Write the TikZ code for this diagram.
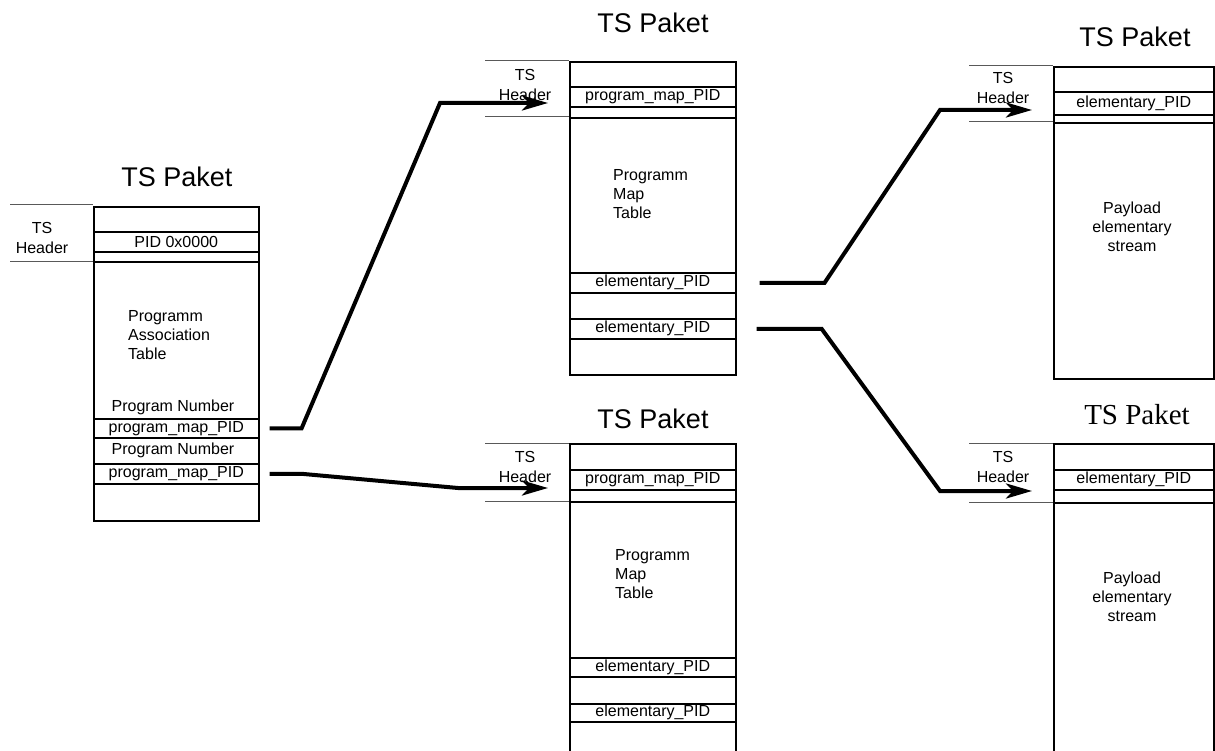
\documentclass[tikz,border=0pt]{standalone}
\usepackage{fontspec}
\setmainfont{Liberation Sans}
\newfontfamily\timesfont{Liberation Serif}
\usetikzlibrary{arrows.meta}

\tikzset{
  paket/.style={draw, line width=2pt, anchor=north west, inner sep=0pt},
  row/.style={draw, line width=1.6pt, anchor=north west, inner sep=0pt, font=\fontsize{16}{19}\selectfont},
  lbl/.style={inner sep=0pt, font=\fontsize{16}{19}\selectfont},
  ttl/.style={inner sep=0pt, font=\fontsize{27}{30}\selectfont},
  hdrline/.style={line width=1pt, black!65},
  link/.style={line width=4pt, -{Stealth[length=26pt,width=15pt,inset=7pt]}},
}

\begin{document}
\begin{tikzpicture}[x=1pt, y=-1pt]
\useasboundingbox (0,0) rectangle (1215,751);

% PAT packet
\node[ttl] (tpat) at (177,177) {TS Paket};
\node[paket, minimum width=165pt, minimum height=314pt] (pat) at (93,206) {};
\node[row, minimum width=165pt, minimum height=20pt] (pid0) at (93,231) {PID 0x0000};
\node[row, minimum width=165pt, minimum height=10pt] (patgap) at (93,251) {};
\node[lbl, align=left, anchor=west] (pattxt) at (128,335) {Programm\\Association\\Table};
\node[lbl] (pnra) at (173,407) {Program Number};
\node[row, minimum width=165pt, minimum height=19pt] (pmpa) at (93,418) {program\_map\_PID};
\node[lbl] (pnrb) at (173,450) {Program Number};
\node[row, minimum width=165pt, minimum height=20pt] (pmpb) at (93,463) {program\_map\_PID};

% PMT packet, top
\node[ttl] (tpmta) at (653,23) {TS Paket};
\node[paket, minimum width=166pt, minimum height=313pt] (pmta) at (569,61) {};
\node[row, minimum width=166pt, minimum height=20pt] (pmtapid) at (569,86) {program\_map\_PID};
\node[row, minimum width=166pt, minimum height=11pt] (pmtagap) at (569,106) {};
\node[lbl, align=left, anchor=west] (pmtatxt) at (613,194) {Programm\\Map\\Table};
\node[row, minimum width=166pt, minimum height=20pt] (epa1) at (569,272) {elementary\_PID};
\node[row, minimum width=166pt, minimum height=20pt] (epa2) at (569,318) {elementary\_PID};

% PMT packet, bottom
\node[ttl] (tpmtb) at (653,419) {TS Paket};
\node[paket, minimum width=166pt, minimum height=310pt] (pmtb) at (569,443) {};
\node[row, minimum width=166pt, minimum height=20pt] (pmtbpid) at (569,469) {program\_map\_PID};
\node[row, minimum width=166pt, minimum height=12pt] (pmtbgap) at (569,489) {};
\node[lbl, align=left, anchor=west] (pmtbtxt) at (615,574) {Programm\\Map\\Table};
\node[row, minimum width=166pt, minimum height=19pt] (epb1) at (569,657) {elementary\_PID};
\node[row, minimum width=166pt, minimum height=18pt] (epb2) at (569,703) {elementary\_PID};

% elementary stream packets
\node[ttl] (tesa) at (1135,37) {TS Paket};
\node[paket, minimum width=160pt, minimum height=312pt] (esa) at (1053,66) {};
\node[row, minimum width=160pt, minimum height=23pt] (esapid) at (1053,91) {elementary\_PID};
\node[row, minimum width=160pt, minimum height=8pt] (esagap) at (1053,114) {};
\node[lbl, align=center] (esatxt) at (1132,227) {Payload\\elementary\\stream};

\node[ttl, font=\timesfont\fontsize{29}{32}\selectfont] (tesb) at (1137,415) {TS Paket};
\node[paket, minimum width=160pt, minimum height=310pt] (esb) at (1053,443) {};
\node[row, minimum width=160pt, minimum height=20pt] (esbpid) at (1053,469) {elementary\_PID};
\node[row, minimum width=160pt, minimum height=13pt] (esbgap) at (1053,489) {};
\node[lbl, align=center] (esbtxt) at (1132,597) {Payload\\elementary\\stream};

% TS header marks
\foreach \n/\lx/\bx/\ta/\tb/\hx/\hy in {pat/10/93/205/262/42/238, pmta/485/569/61/117/525/85,
    pmtb/485/569/443/501/525/467, esa/969/1053/66/122/1003/88, esb/969/1053/443/502/1003/467}
{
  \draw[hdrline] (\lx,\ta) -- (\bx,\ta) (\lx,\tb) -- (\bx,\tb);
  \node[lbl, align=center, font=\fontsize{16}{20}\selectfont] (hdr\n) at (\hx,\hy) {TS\\Header};
}

% links
\coordinate (ina) at (548,103);
\coordinate (inb) at (548,488);
\coordinate (inc) at (1032,110);
\coordinate (ind) at (1032,491);
\draw[link] ([xshift=10pt]pmpa.east) -- ++(32,0) -- (440,103) -- (ina);
\draw[link] ([xshift=10pt]pmpb.east) -- ++(32,0) -- (458,488) -- (inb);
\draw[link] ([xshift=23pt]epa1.east) -- ++(65,0) -- (940,110) -- (inc);
\draw[link] ([xshift=20pt]epa2.east) -- ++(65,0) -- (940,491) -- (ind);
\end{tikzpicture}
\end{document}
